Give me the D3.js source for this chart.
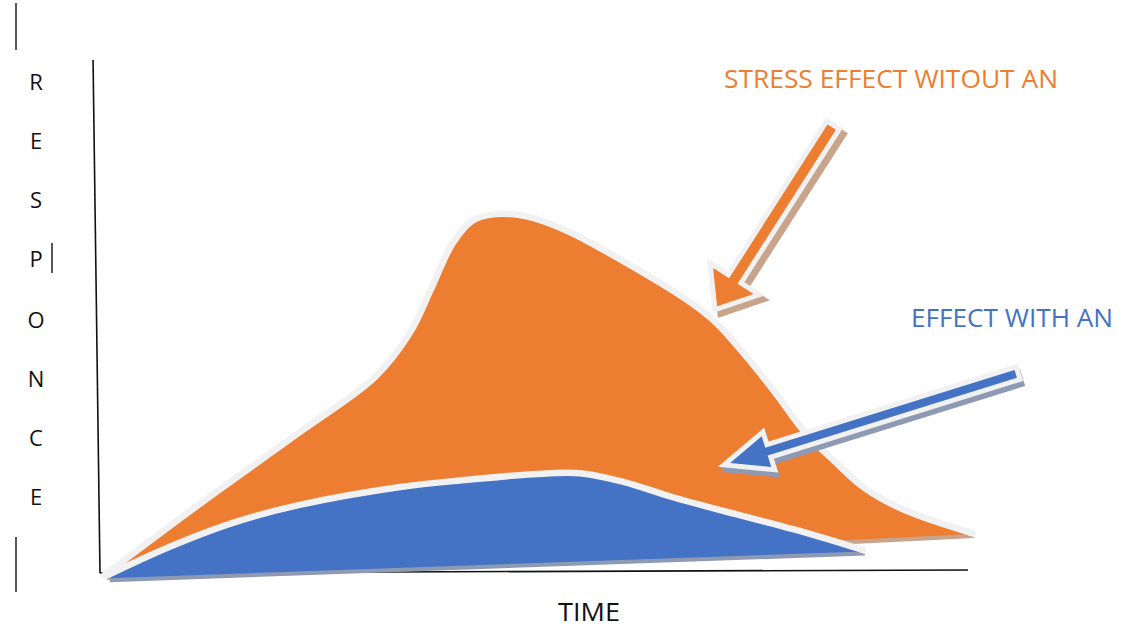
<!DOCTYPE html>
<html>
<head>
<meta charset="utf-8">
<script src="https://cdn.jsdelivr.net/npm/d3@7"></script>
<style>
  html, body { margin: 0; padding: 0; background: #ffffff; }
  svg { display: block; }
  text { font-family: "Open Sans", "Liberation Sans", sans-serif; }
</style>
</head>
<body>
<svg id="chart" width="1142" height="629"></svg>
<script>
// ---- data (time 0..100, response 0..100) ----
const orangeTime = [0.5, 11.5, 23.0, 31.7, 35.7, 38.2, 40.6, 42.9, 45.5, 49.0, 53.6, 60.5, 68.0, 70.9, 74.3, 77.8, 81.2, 84.7, 88.1, 92.7, 100.5];
const orangeResp = [-0.6, 13.3, 27.3, 38.1, 46.7, 55.5, 64.1, 68.6, 69.9, 69.5, 66.8, 60.5, 52.7, 48.8, 42.4, 35.0, 27.3, 21.5, 16.4, 12.1, 7.6];
const orangeBaseTime = [100.5, 0.7];
const orangeBaseResp = [7.4, -0.8];

const blueTime = [0.9, 7.7, 15.3, 23.0, 34.6, 42.3, 49.9, 55.3, 60.3, 66.0, 73.7, 81.5, 87.9];
const blueResp = [-0.6, 4.7, 9.6, 13.1, 16.6, 18.0, 19.1, 19.3, 17.6, 14.6, 11.1, 7.6, 4.3];
const blueBaseTime = [87.9, 0.9];
const blueBaseResp = [4.0, -1.2];

const yAxisTime = [-0.8, 0];
const yAxisResp = [100, -0.2];
const xAxisTime = [0, 100];
const xAxisResp = [-0.2, 0.4];

const arrowLabels = ["STRESS EFFECT WITOUT AN", "EFFECT WITH AN"];
const arrowTailTime = [84.3, 105.5];
const arrowTailResp = [86.9, 38.7];
const arrowTipTime = [71.1, 72.6];
const arrowTipResp = [51.9, 21.3];

const yTitle = "RESPONCE";
const xTitle = "TIME";

// ---- scales ----
const x = d3.scaleLinear().domain([0, 100]).range([100, 968]);
const y = d3.scaleLinear().domain([0, 100]).range([572, 60]);

const svg = d3.select("#chart");

const ORANGE = "#ED7D31", BLUE = "#4472C4";
const OUTLINE = "#f1f1f1";
const ORANGE_SHADOW = "#c8a48c", BLUE_SHADOW = "#8e9ab3";

function pts(ts, rs) { return ts.map((t, i) => [t, rs[i]]); }

const curve = d3.line().x(d => x(d[0])).y(d => y(d[1])).curve(d3.curveCatmullRom.alpha(0.5));
const straight = d3.line().x(d => x(d[0])).y(d => y(d[1]));

function areaPath(topPts, basePts) {
  const top = curve(topPts);
  const base = basePts.map(d => `L${x(d[0])},${y(d[1])}`).join("");
  return top + base + "Z";
}

// ---- axes (no ticks) ----
svg.append("path").attr("d", straight(pts(yAxisTime, yAxisResp)))
  .attr("stroke", "#111").attr("stroke-width", 1.6).attr("fill", "none");
svg.append("path").attr("d", straight(pts(xAxisTime, xAxisResp)))
  .attr("stroke", "#111").attr("stroke-width", 1.6).attr("fill", "none");

function drawArea(topT, topR, baseT, baseR, fill, shadow) {
  const topPts = pts(topT, topR), basePts = pts(baseT, baseR);
  const d = areaPath(topPts, basePts);
  svg.append("path").attr("d", d).attr("fill", shadow)
    .attr("transform", "translate(2,4)");
  svg.append("path").attr("d", d).attr("fill", fill);
  svg.append("path").attr("d", curve(topPts)).attr("fill", "none")
    .attr("stroke", OUTLINE).attr("stroke-width", 6.5).attr("stroke-linecap", "round");
}

drawArea(orangeTime, orangeResp, orangeBaseTime, orangeBaseResp, ORANGE, ORANGE_SHADOW);
drawArea(blueTime, blueResp, blueBaseTime, blueBaseResp, BLUE, BLUE_SHADOW);

// ---- arrows ----
function arrowPoly(x1, y1, x2, y2, sw, hw, hl) {
  const dx = x2 - x1, dy = y2 - y1, L = Math.hypot(dx, dy);
  const ux = dx / L, uy = dy / L, px = -uy, py = ux;
  const bx = x2 - ux * hl, by = y2 - uy * hl;
  const p = [
    [x1 + px * sw / 2, y1 + py * sw / 2],
    [bx + px * sw / 2, by + py * sw / 2],
    [bx + px * hw / 2, by + py * hw / 2],
    [x2, y2],
    [bx - px * hw / 2, by - py * hw / 2],
    [bx - px * sw / 2, by - py * sw / 2],
    [x1 - px * sw / 2, y1 - py * sw / 2]
  ];
  return "M" + p.map(q => q.join(",")).join("L") + "Z";
}

const arrowColors = [ORANGE, BLUE];
const arrowShadows = [ORANGE_SHADOW, BLUE_SHADOW];
const arrowShadowOff = [[5, 5], [2, 5]];
const arrowDims = [[10, 48, 30], [8, 32, 38]];

arrowLabels.forEach((lab, i) => {
  const d = arrowPoly(x(arrowTailTime[i]), y(arrowTailResp[i]), x(arrowTipTime[i]), y(arrowTipResp[i]),
    arrowDims[i][0], arrowDims[i][1], arrowDims[i][2]);
  svg.append("path").attr("d", d).attr("fill", arrowShadows[i])
    .attr("stroke", arrowShadows[i]).attr("stroke-width", 10).attr("stroke-linejoin", "miter")
    .attr("transform", `translate(${arrowShadowOff[i][0]},${arrowShadowOff[i][1]})`);
  svg.append("path").attr("d", d).attr("fill", OUTLINE)
    .attr("stroke", OUTLINE).attr("stroke-width", 10).attr("stroke-linejoin", "miter");
  svg.append("path").attr("d", d).attr("fill", arrowColors[i]);
});

// ---- labels ----
svg.append("text").attr("x", 724).attr("y", 88).attr("fill", ORANGE)
  .attr("font-size", 25).attr("textLength", 334).attr("lengthAdjust", "spacingAndGlyphs")
  .text(arrowLabels[0]);
svg.append("text").attr("x", 911).attr("y", 327).attr("fill", BLUE)
  .attr("font-size", 25).attr("textLength", 202).attr("lengthAdjust", "spacingAndGlyphs")
  .text(arrowLabels[1]);
svg.append("text").attr("x", 558).attr("y", 621).attr("fill", "#111")
  .attr("font-size", 25).attr("textLength", 62).attr("lengthAdjust", "spacingAndGlyphs")
  .text(xTitle);

const letterY = [82, 141, 200, 259, 320, 379, 438, 497];
yTitle.split("").forEach((ch, i) => {
  svg.append("text").attr("x", 36).attr("y", letterY[i] + 8).attr("text-anchor", "middle")
    .attr("fill", "#111").attr("font-size", 22).text(ch);
});

// decorative vertical bars
[[16, 3, 50], [16, 537, 592], [52, 243, 273]].forEach(b => {
  svg.append("line").attr("x1", b[0]).attr("x2", b[0]).attr("y1", b[1]).attr("y2", b[2])
    .attr("stroke", "#111").attr("stroke-width", 1.4);
});
</script>
</body>
</html>
